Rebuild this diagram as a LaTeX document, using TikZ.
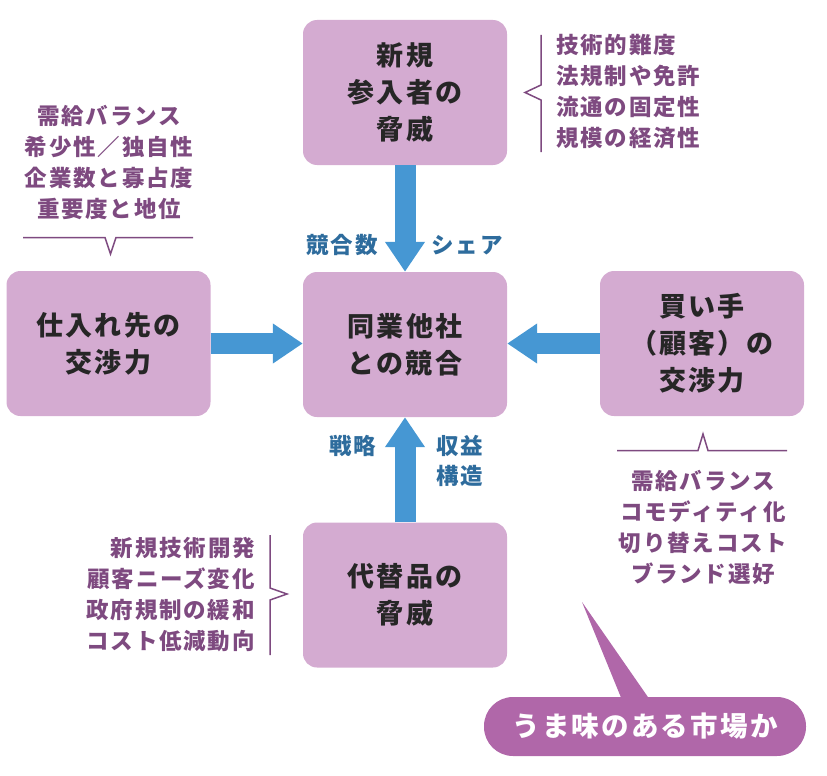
\documentclass[tikz,border=0pt]{standalone}
\usepackage{fontspec}
\setmainfont{Noto Sans CJK JP}
\newfontfamily\jpwide{Noto Sans CJK JP}[LetterSpace=8]
\usetikzlibrary{arrows.meta}
\definecolor{boxfill}{HTML}{D4ABD1}
\definecolor{arrowblue}{HTML}{4697D3}
\definecolor{labelblue}{HTML}{2E6C9D}
\definecolor{notepurple}{HTML}{7E4A80}
\definecolor{bubblefill}{HTML}{B067A9}
\tikzset{
  forcebox/.style={fill=boxfill, rounded corners=14pt, minimum width=204pt, minimum height=145pt, inner sep=0pt, align=center, font=\jpwide\fontsize{27}{37}\selectfont\bfseries, text=black!85},
  bigarrow/.style={draw=arrowblue, line width=21pt, -{Triangle[width=38pt,length=30pt]}},
  forcelabel/.style={text=labelblue, font=\jpwide\fontsize{22.5}{30}\selectfont\bfseries, align=center, inner sep=0pt},
  notetext/.style={text=notepurple, font=\jpwide\fontsize{22.5}{31}\selectfont\bfseries, inner sep=0pt},
  bracketline/.style={draw=notepurple, line width=1.5pt, line join=miter},
}
\begin{document}
\begin{tikzpicture}[x=1pt,y=-1pt]
\useasboundingbox (0,0) rectangle (827,776);
% boxes
\node[forcebox] (top) at (405,92.5) {新規\\参入者の\\脅威};
\node[forcebox] (center) at (405,344.5) {同業他社\\との競合};
\node[forcebox] (left) at (108.5,343.5) {仕入れ先の\\交渉力};
\node[forcebox] (right) at (702,343.5) {買い手\\（顧客）の\\交渉力};
\node[forcebox] (bottom) at (405,595) {代替品の\\脅威};
% arrows
\draw[bigarrow] (top.south) -- (center.north);
\draw[bigarrow] (bottom.north) -- (center.south);
\draw[bigarrow] (left.east) -- (left.east -| center.west);
\draw[bigarrow] (right.west) -- (right.west -| center.east);
% arrow labels
\node[forcelabel] (l1) at (342,245) {競合数};
\node[forcelabel] (l2) at (467,245) {シェア};
\node[forcelabel] (l3) at (353,446) {戦略};
\node[forcelabel] (l4) at (460,461) {収益\\構造};
% notes
\node[notetext, align=left, anchor=west] (ntr) at (556,92) {技術的難度\\法規制や免許\\流通の固定性\\規模の経済性};
\node[notetext, align=center] (ntl) at (109,162) {需給バランス\\希少性／独自性\\企業数と寡占度\\重要度と地位};
\node[notetext, align=center] (nbr) at (703,527) {需給バランス\\コモディティ化\\切り替えコスト\\ブランド選好};
\node[notetext, align=right, anchor=east] (nbl) at (255,595) {新規技術開発\\顧客ニーズ変化\\政府規制の緩和\\コスト低減動向};
% brackets
\draw[bracketline] (541,35) -- (541,85) -- (525,92.5) -- (541,100) -- (541,152);
\draw[bracketline] (270,535) -- (270,588) -- (287,594) -- (270,600) -- (270,655);
\draw[bracketline] (23,237.5) -- (105,237.5) -- (110.5,254) -- (116,237.5) -- (193,237.5);
\draw[bracketline] (617,450.5) -- (698,450.5) -- (703,434) -- (708,450.5) -- (787,450.5);
% bubble
\fill[bubblefill] (582,602) -- (622,700) -- (650,700) -- cycle;
\node[fill=bubblefill, rounded corners=29pt, minimum width=322pt, minimum height=59pt, inner sep=0pt, text=white, font=\jpwide\fontsize{27.5}{30}\selectfont\bfseries] (bubble) at (645,726.5) {うま味のある市場か};
\end{tikzpicture}
\end{document}
